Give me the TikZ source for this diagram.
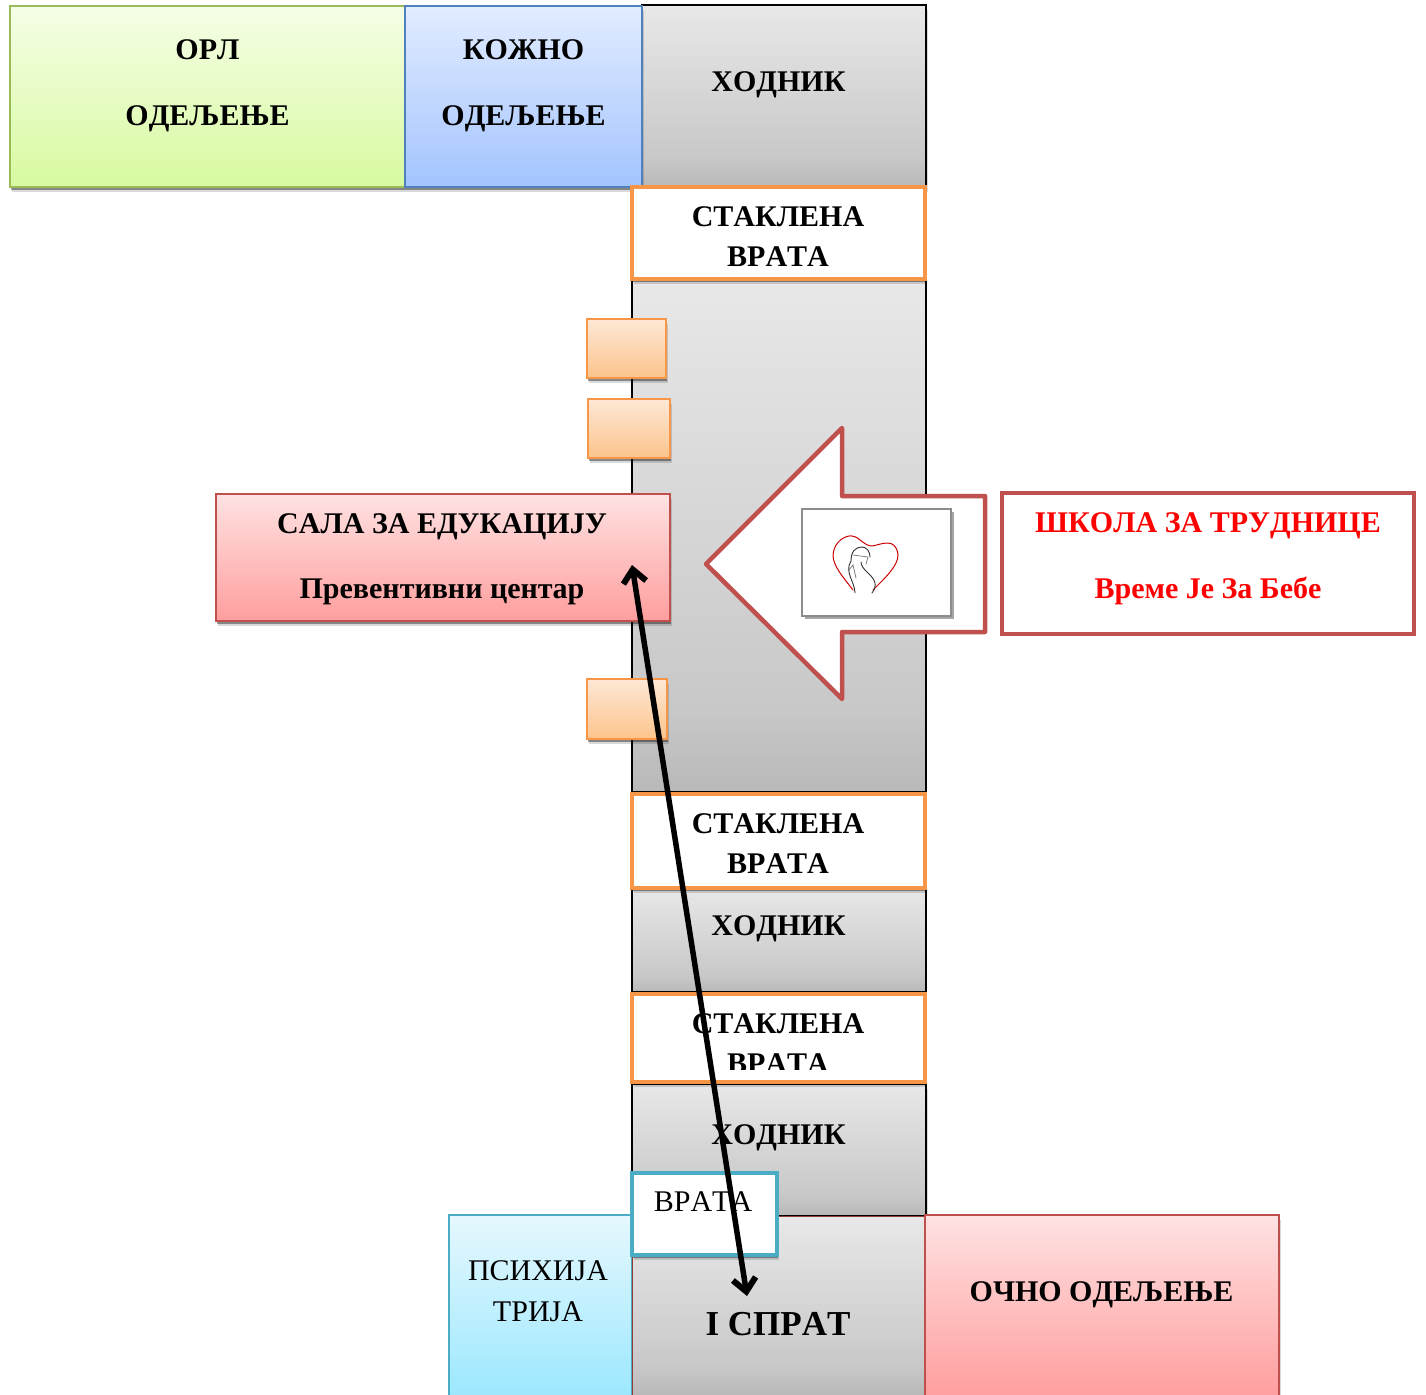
\documentclass[tikz,border=0pt]{standalone}
\usepackage{fontspec}
\setmainfont[Kerning=Off]{Liberation Serif}
\usetikzlibrary{arrows.meta,shadows}
\definecolor{org}{RGB}{247,150,70}
\definecolor{redb}{RGB}{192,80,77}
\definecolor{tealb}{RGB}{75,172,198}
\definecolor{hallA}{RGB}{232,232,232}
\definecolor{hallB}{RGB}{200,200,200}
\definecolor{hallC}{RGB}{184,184,184}
\pgfdeclareverticalshading{hallg}{100bp}{color(0bp)=(hallC); color(25bp)=(hallC); color(33bp)=(hallB); color(75bp)=(hallA); color(100bp)=(hallA)}
\definecolor{grnT}{RGB}{245,254,230}
\definecolor{grnB}{RGB}{216,250,160}
\definecolor{grnL}{RGB}{155,187,89}
\definecolor{bluT}{RGB}{226,236,255}
\definecolor{bluB}{RGB}{163,196,255}
\definecolor{bluL}{RGB}{79,129,189}
\definecolor{pnkT}{RGB}{255,226,226}
\definecolor{pnkB}{RGB}{255,158,158}
\definecolor{orgT}{RGB}{254,232,214}
\definecolor{orgB}{RGB}{252,196,140}
\definecolor{cyaT}{RGB}{230,248,254}
\definecolor{cyaB}{RGB}{156,232,254}
\tikzset{
  x=1pt,y=-1pt,
  sh/.style={drop shadow={shadow xshift=1pt,shadow yshift=-2.5pt,fill=black,opacity=.38},
             drop shadow={shadow xshift=2pt,shadow yshift=-5pt,fill=black,opacity=.15}},
  lab/.style={font=\fontsize{30}{36}\selectfont\bfseries,inner sep=0,anchor=base,text=black},
  labn/.style={font=\fontsize{30}{36}\selectfont,inner sep=0,anchor=base,text=black},
  labr/.style={font=\fontsize{30}{36}\selectfont\bfseries,inner sep=0,anchor=base,text=red},
  hall/.style={draw=black,line width=1.4pt,shading=hallg},
  door/.style={draw=org,line width=4.5pt,fill=white,sh},
  tab/.style={draw=org,line width=1.8pt,top color=orgT,bottom color=orgB,sh},
  pink/.style={draw=redb,line width=2pt,top color=pnkT,bottom color=pnkB,sh},
}
\begin{document}
\begin{tikzpicture}
\useasboundingbox (0,0) rectangle (1426,1394);
% corridors
\path[hall,sh] (642,5) rectangle (926,187);
\path[hall] (632,280) rectangle (926,792);
\path[hall] (632,888) rectangle (926,992);
\path[hall,sh] (632,1084) rectangle (926,1216);
% lower ward and landing
\path[draw=tealb,line width=1.6pt,top color=cyaT,bottom color=cyaB] (449,1215) rectangle (632,1396);
\path[draw=redb!75!black,line width=.9pt,shading=hallg] (632.5,1216) rectangle (926,1396);
% wards top
\path[draw=grnL,line width=2pt,top color=grnT,bottom color=grnB,sh] (10,6) rectangle (405,187);
\path[draw=bluL,line width=2pt,top color=bluT,bottom color=bluB,sh] (405,6) rectangle (642,187);
% doors
\path[door] (632,187) rectangle (925,279);
\path[door] (632,794) rectangle (925,888);
\path[door] (632,994) rectangle (925,1082);
% tabs
\path[tab] (587,319) rectangle (666,378);
\path[tab] (588,399) rectangle (670,458);
\path[tab] (587,679) rectangle (667,739);
% education room
\path[pink] (216,494) rectangle (670,621);
% white arrow
\draw[draw=redb,line width=4.5pt,line join=round,fill=white]
  (842,428) -- (842,496) -- (985,496) -- (985,632) -- (842,632) -- (842,699) -- (706,564) -- cycle;
% picture
\path[draw=black!45,line width=1.6pt,fill=white,drop shadow={shadow xshift=2.5pt,shadow yshift=-2.5pt,fill=black,opacity=.35}] (802,509) rectangle (951,616);
\draw[red!80!black,line width=1pt,line cap=round] (853,590) .. controls (843,577) and (833,566) .. (833,555) .. controls (834,541) and (846,535) .. (852,536) .. controls (860,537) and (864,546) .. (872,546) .. controls (880,545) and (896,536) .. (898,555) .. controls (898,566) and (885,578) .. (873,590);
\draw[black!80,line width=.9pt,line cap=round] (855,593) .. controls (855,582) and (844,572) .. (851,561) .. controls (851,552) and (855,547) .. (862,547) .. controls (867,547) and (870,552) .. (870,557);
\draw[black!80,line width=.9pt,line cap=round] (872,593) .. controls (880,583) and (871,576) .. (867,572) .. controls (864,569) and (861,566) .. (861,562);
\draw[black!55,line width=.7pt,line cap=round] (853,555) -- (868,557) -- (866,564) (848,571) -- (853,565) -- (856,578);
% red box
\path[draw=redb,line width=4pt,fill=white] (1002,493) rectangle (1414,634);
% ward and door over landing
\path[pink] (925,1215) rectangle (1279,1396);
\path[draw=tealb,line width=4.5pt,fill=white,sh] (632,1173) rectangle (777,1255);
% labels
\node[lab] (orl) at (207.5,60) {ОРЛ};
\node[lab] (orl2) at (207.5,125) {ОДЕЉЕЊЕ};
\node[lab] (koz) at (523.5,60) {КОЖНО};
\node[lab] (koz2) at (523.5,125) {ОДЕЉЕЊЕ};
\node[lab] (h1) at (778.5,92) {ХОДНИК};
\node[lab] (s1) at (778,226) {СТАКЛЕНА};
\node[lab] (v1) at (778,266) {ВРАТА};
\node[lab] (sala) at (442,533) {САЛА ЗА ЕДУКАЦИЈУ};
\node[lab] (prev) at (442,598) {Превентивни центар};
\node[labr] (sk) at (1208,532) {ШКОЛА ЗА ТРУДНИЦЕ};
\node[labr] (vr) at (1208,598) {Време Је За Бебе};
\node[lab] (s2) at (778,833) {СТАКЛЕНА};
\node[lab] (v2) at (778,873) {ВРАТА};
\node[lab] (h2) at (778.5,935) {ХОДНИК};
\node[lab] (s3) at (778,1033) {СТАКЛЕНА};
\node[lab] (v3) at (778,1073) {ВРАТА};
\fill[white] (660,1070) rectangle (900,1079.5);
\node[lab] (h3) at (778.5,1144) {ХОДНИК};
\node[labn] (vr4) at (703,1211) {ВРАТА};
\node[labn] (psi) at (538,1280) {ПСИХИЈА};
\node[labn] (psi2) at (538,1321) {ТРИЈА};
\node[lab,font=\fontsize{35}{40}\selectfont\bfseries] (isp) at (778,1335) {I СПРАТ};
\node[lab] (ocno) at (1101.5,1301) {ОЧНО ОДЕЉЕЊЕ};
% double arrow
\coordinate (aUp) at (632,565);
\coordinate (aDn) at (747,1296);
\draw[black,line width=5.5pt,{Straight Barb[length=13pt,width=23pt,line width=6pt]}-{Straight Barb[length=13pt,width=23pt,line width=6pt]}] (aUp) -- (aDn);
\end{tikzpicture}
\end{document}
